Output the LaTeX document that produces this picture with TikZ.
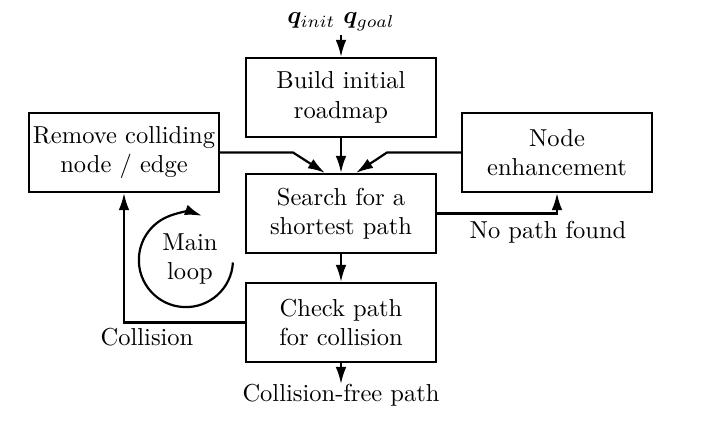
\documentclass[tikz,border=0pt]{standalone}
\usepackage{amsmath}
\usepackage{bm}
\usetikzlibrary{arrows.meta,calc}
\begin{document}
\begin{tikzpicture}[x=0.408pt,y=0.408pt,
  box/.style={draw,line width=0.9pt,minimum width=77.5pt,minimum height=32.2pt,inner sep=0pt,align=center},
  arr/.style={line width=0.9pt,-{Latex[length=7pt,width=4.4pt]}},
  lbl/.style={inner sep=0pt}]
\useasboundingbox (0,0) rectangle (704,-424);
\node[lbl] (q) at (341,-22) {$\bm{q}_{init}\ \bm{q}_{goal}$};
\node[box] (build) at (341,-97.5) {Build initial\\roadmap};
\node[box] (search) at (341,-213.5) {Search for a\\shortest path};
\node[box] (check) at (341,-322.5) {Check path\\for collision};
\node[box] (remove) at (124,-152.5) {Remove colliding\\node / edge};
\node[box] (enh) at (557,-152.5) {Node\\enhancement};
\node[lbl] (out) at (341,-395) {Collision-free path};
\node[lbl] (nopath) at (548,-232) {No path found};
\node[lbl] (coll) at (147,-337) {Collision};
\node[lbl,align=center] (loop) at (190,-259) {Main\\loop};
\coordinate (rbend) at (293,-152.5);
\coordinate (ebend) at (387,-152.5);
\draw[arr] (341,-35) -- (build.north);
\draw[arr] (build) -- (search);
\draw[arr] (search) -- (check);
\draw[arr] (check.south) -- (341,-384);
\draw[arr] (remove.east) -- (rbend) -- ($(search.north)+(-16,0)$);
\draw[arr] (enh.west) -- (ebend) -- ($(search.north)+(15,0)$);
\draw[arr] (search.east) -| (enh.south);
\draw[arr] (check.west) -| (remove.south);
\draw[arr] (232.9,-262.5) arc[start angle=-3,end angle=-290,radius=19.2pt];
\end{tikzpicture}
\end{document}
